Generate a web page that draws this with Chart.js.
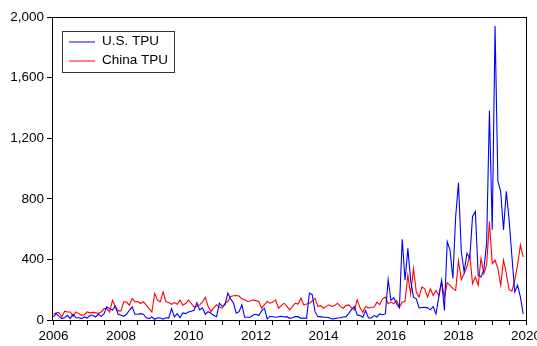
<!DOCTYPE html>
<html>
<head>
<meta charset="utf-8">
<script src="https://cdn.jsdelivr.net/npm/chart.js@4.4.1/dist/chart.umd.min.js"></script>
<style>
  html, body { margin: 0; padding: 0; background: #fff; }
  canvas { display: block; }
</style>
</head>
<body>
<canvas id="tpu" width="537" height="346"></canvas>
<script>
// Monthly trade policy uncertainty indices, 2006M01 - 2019M12
const usTPU = [
  20, 42, 24, 9, 15, 31, 9, 38, 15, 15, 9, 20,
  13, 31, 31, 20, 38, 24, 42, 87, 75, 64, 91, 38,
  31, 24, 38, 64, 87, 38, 38, 42, 38, 15, 9, 20,
  5, 15, 13, 5, 15, 13, 75, 20, 42, 15, 47, 42,
  53, 58, 64, 113, 67, 80, 38, 55, 45, 30, 22, 111,
  90, 100, 178, 140, 110, 45, 55, 100, 18, 18, 18, 33,
  38, 30, 60, 78, 7, 25, 22, 18, 22, 25, 20, 22,
  11, 15, 22, 22, 11, 13, 11, 178, 167, 55, 22, 22,
  18, 18, 15, 7, 9, 13, 15, 20, 22, 44, 70, 89,
  33, 29, 18, 62, 13, 13, 29, 20, 40, 35, 40, 266,
  129, 147, 107, 80, 533, 262, 473, 262, 151, 140, 80, 82,
  84, 80, 67, 89, 40, 151, 262, 63, 517, 462, 274, 683,
  905, 450, 318, 440, 407, 683, 716, 296, 284, 329, 506, 1381,
  595, 1940, 916, 849, 595, 849, 661, 417, 185, 229, 152, 40
];
const chinaTPU = [
  38, 47, 49, 20, 58, 53, 53, 24, 53, 42, 31, 35,
  53, 47, 50, 47, 44, 53, 75, 75, 53, 131, 87, 60,
  60, 120, 118, 98, 142, 120, 122, 109, 120, 98, 75, 53,
  175, 131, 120, 186, 120, 115, 104, 115, 104, 131, 98, 109,
  131, 109, 87, 89, 100, 120, 150, 90, 55, 80, 100, 85,
  78, 110, 122, 155, 160, 162, 158, 140, 133, 122, 125, 133,
  128, 122, 78, 100, 122, 111, 118, 133, 78, 95, 111, 90,
  67, 90, 111, 105, 144, 100, 105, 111, 125, 144, 89, 95,
  78, 90, 100, 89, 95, 111, 90, 78, 95, 100, 80, 67,
  133, 80, 51, 89, 80, 84, 84, 118, 102, 140, 151, 107,
  118, 107, 129, 84, 118, 124, 295, 173, 340, 184, 151, 218,
  206, 151, 206, 162, 195, 162, 251, 151, 245, 229, 207, 196,
  391, 267, 307, 351, 428, 240, 284, 229, 407, 307, 362, 650,
  373, 395, 340, 229, 395, 307, 200, 190, 262, 362, 495, 417
];
const seriesNames = ['U.S. TPU', 'China TPU'];
const yearLabels = ['2006', '2008', '2010', '2012', '2014', '2016', '2018', '2020'];
const yTickValues = [0, 400, 800, 1200, 1600, 2000];

const toPoints = arr => arr.map((v, i) => ({ x: i, y: v }));
const FONT = 'Liberation Sans, Arial, sans-serif';

// Black box around the plotting area
const frame = {
  id: 'frame',
  afterDraw(chart) {
    const { ctx, chartArea: a } = chart;
    ctx.save();
    ctx.strokeStyle = '#000';
    ctx.lineWidth = 1;
    ctx.strokeRect(a.left + 0.5, a.top + 0.5, a.right - a.left, a.bottom - a.top);
    ctx.restore();
  }
};

// Boxed legend in the upper-left corner of the plot
const boxLegend = {
  id: 'boxLegend',
  afterDraw(chart) {
    const { ctx, chartArea: a } = chart;
    const x0 = a.left + 10, y0 = a.top + 14;
    const w = 112, h = 41;
    ctx.save();
    ctx.fillStyle = '#fff';
    ctx.fillRect(x0, y0, w, h);
    ctx.strokeStyle = '#333';
    ctx.lineWidth = 1;
    ctx.strokeRect(x0 + 0.5, y0 + 0.5, w, h);
    ctx.font = '13.5px ' + FONT;
    ctx.textBaseline = 'middle';
    chart.data.datasets.forEach((ds, k) => {
      const cy = y0 + 10.5 + k * 19;
      ctx.strokeStyle = ds.borderColor;
      ctx.beginPath();
      ctx.moveTo(x0 + 7, cy + 0.5);
      ctx.lineTo(x0 + 33, cy + 0.5);
      ctx.stroke();
      ctx.fillStyle = '#000';
      ctx.fillText(ds.label, x0 + 40, cy);
    });
    ctx.restore();
  }
};

new Chart(document.getElementById('tpu'), {
  type: 'line',
  data: {
    datasets: [
      { label: seriesNames[0], data: toPoints(usTPU), borderColor: '#0000ff', borderWidth: 1.1, pointRadius: 0, tension: 0 },
      { label: seriesNames[1], data: toPoints(chinaTPU), borderColor: '#ff0000', borderWidth: 1.1, pointRadius: 0, tension: 0 }
    ]
  },
  options: {
    responsive: false,
    animation: false,
    layout: { padding: { top: 17, right: 11, left: 0, bottom: 0 } },
    plugins: { legend: { display: false }, tooltip: { enabled: false } },
    scales: {
      x: {
        type: 'linear',
        min: -0.5,
        max: 168,
        afterBuildTicks(scale) {
          const t = [];
          for (let m = 0; m <= 168; m += 6) t.push({ value: m });
          scale.ticks = t;
        },
        afterFit(scale) {
          scale.height = 26;
          scale.paddingLeft = 0;
          scale.paddingRight = 0;
        },
        grid: { drawOnChartArea: false, drawTicks: true, tickLength: 5, color: '#000' },
        border: { display: true, color: '#000' },
        ticks: {
          autoSkip: false,
          maxRotation: 0,
          padding: 3,
          color: '#000',
          font: { family: FONT, size: 13.5 },
          callback: v => (v % 24 === 0 ? yearLabels[v / 24] : '')
        }
      },
      y: {
        min: 0,
        max: 2000,
        afterBuildTicks(scale) { scale.ticks = yTickValues.map(v => ({ value: v })); },
        afterFit(scale) {
          scale.width = 52;
          scale.paddingTop = 0;
          scale.paddingBottom = 0;
        },
        grid: { drawOnChartArea: false, drawTicks: true, tickLength: 5, color: '#000' },
        border: { display: true, color: '#000' },
        ticks: {
          padding: 3,
          color: '#000',
          font: { family: FONT, size: 13.5 },
          callback: v => v.toLocaleString('en-US')
        }
      }
    }
  },
  plugins: [frame, boxLegend]
});
</script>
</body>
</html>
